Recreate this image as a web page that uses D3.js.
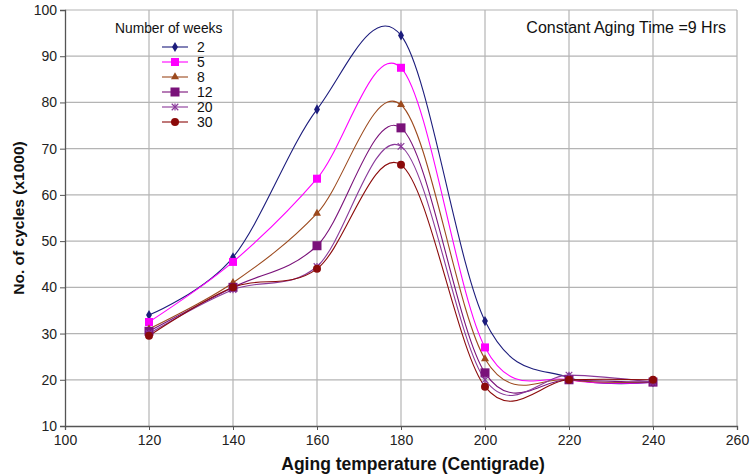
<!DOCTYPE html>
<html>
<head>
<style>
body{
    margin:0;
    background:#fff;
}
text{
    font-family: "Liberation Sans", Arial, sans-serif;
}
</style>
</head>
<body>
<svg id="chart"></svg>
<script src="https://cdn.jsdelivr.net/npm/d3@7"></script>
<script>
// aging temperatures
var temps = [120, 140, 160, 180, 200, 220, 240];
// cycles (x1000) per number of weeks
var weeks2  = [34, 46.5, 78.5, 94.5, 32.7, 20.5, 19.5];
var weeks5  = [32.5, 45.5, 63.5, 87.5, 27, 20, 19.5];
var weeks8  = [31, 41, 56, 79.5, 24.5, 20, 19.5];
var weeks12 = [30.5, 40, 49, 74.5, 21.5, 20, 19.5];
var weeks20 = [30, 39.5, 44.5, 70.5, 20, 21, 19.5];
var weeks30 = [29.5, 40, 44, 66.5, 18.5, 20, 20];
var seriesNames = ['2', '5', '8', '12', '20', '30'];
var xTicks = [100, 120, 140, 160, 180, 200, 220, 240, 260];
var yTicks = [10, 20, 30, 40, 50, 60, 70, 80, 90, 100];

var series = [
    {name: '2', values: weeks2, color: '#1c1c7c', marker: 'diamond'},
    {name: '5', values: weeks5, color: '#ff00ff', marker: 'square'},
    {name: '8', values: weeks8, color: '#9c4a1e', marker: 'triangle'},
    {name: '12', values: weeks12, color: '#7a127a', marker: 'bigsquare'},
    {name: '20', values: weeks20, color: '#8a3a9a', marker: 'star'},
    {name: '30', values: weeks30, color: '#8b0a0a', marker: 'circle'}
];

var width = 751, height = 475;
var margin = {top: 10, right: 14, bottom: 49, left: 65};

var x = d3.scaleLinear().domain([100, 260]).range([margin.left, width - margin.right]);
var y = d3.scaleLinear().domain([10, 100]).range([height - margin.bottom, margin.top]);

var svg = d3.select('#chart').attr('width', width).attr('height', height);

// grid
svg.append('g').selectAll('line').data(yTicks.slice(1))
    .enter().append('line')
    .attr('x1', x(100)).attr('x2', x(260))
    .attr('y1', function (d) { return y(d); })
    .attr('y2', function (d) { return y(d); })
    .attr('stroke', '#b4b4b4').attr('stroke-width', 1.2);
svg.append('g').selectAll('line').data(xTicks.slice(1))
    .enter().append('line')
    .attr('y1', y(10)).attr('y2', y(100))
    .attr('x1', function (d) { return x(d); })
    .attr('x2', function (d) { return x(d); })
    .attr('stroke', '#b4b4b4').attr('stroke-width', 1.2);

// axes
var xAxis = svg.append('g')
    .attr('transform', 'translate(0,' + y(10) + ')')
    .call(d3.axisBottom(x).tickValues(xTicks).tickSize(4).tickPadding(5));
var yAxis = svg.append('g')
    .attr('transform', 'translate(' + x(100) + ',0)')
    .call(d3.axisLeft(y).tickValues(yTicks).tickSize(5).tickPadding(3));
[xAxis, yAxis].forEach(function (a) {
    a.select('.domain').attr('stroke', '#555').attr('stroke-width', 1.3);
    a.selectAll('.tick line').attr('stroke', '#555');
    a.selectAll('.tick text').attr('fill', '#222').style('font-size', '14px')
        .style('font-family', '"Liberation Sans", Arial, sans-serif');
});

// axis titles
svg.append('text')
    .attr('x', (x(100) + x(260)) / 2 + 12).attr('y', 470)
    .attr('text-anchor', 'middle')
    .style('font-size', '17.5px').style('font-weight', 'bold').attr('fill', '#111')
    .text('Aging temperature (Centigrade)');
svg.append('text')
    .attr('transform', 'translate(24,' + (y(55)) + ') rotate(-90)')
    .attr('text-anchor', 'middle')
    .style('font-size', '15.5px').style('font-weight', 'bold').attr('fill', '#111')
    .text('No. of cycles (x1000)');

svg.append('text')
    .attr('x', 726).attr('y', 33)
    .attr('text-anchor', 'end')
    .style('font-size', '16px').attr('fill', '#111')
    .text('Constant Aging Time =9 Hrs');

function drawMarker(g, type, color) {
    if (type === 'diamond') {
        g.append('path').attr('d', d3.symbol().type(d3.symbolDiamond).size(30)())
            .attr('fill', color);
    } else if (type === 'square') {
        g.append('rect').attr('x', -4).attr('y', -4).attr('width', 8).attr('height', 8)
            .attr('fill', color);
    } else if (type === 'bigsquare') {
        g.append('rect').attr('x', -4.5).attr('y', -4.5).attr('width', 9).attr('height', 9)
            .attr('fill', color);
    } else if (type === 'triangle') {
        g.append('path').attr('d', d3.symbol().type(d3.symbolTriangle).size(28)())
            .attr('fill', color);
    } else if (type === 'star') {
        g.append('path').attr('d', d3.symbol().type(d3.symbolTimes).size(30)())
            .attr('stroke', color).attr('stroke-width', 1.2).attr('fill', 'none');
        g.append('line').attr('x1', 0).attr('x2', 0).attr('y1', -3.5).attr('y2', 3.5)
            .attr('stroke', color).attr('stroke-width', 1.2);
    } else {
        g.append('circle').attr('r', 4).attr('fill', color);
    }
}

var line = d3.line()
    .x(function (d, i) { return x(temps[i]); })
    .y(function (d) { return y(d); })
    .curve(d3.curveCardinal.tension(0));

series.forEach(function (s) {
    svg.append('path')
        .datum(s.values)
        .attr('d', line)
        .attr('fill', 'none')
        .attr('stroke', s.color)
        .attr('stroke-width', 1.1);
});
series.forEach(function (s) {
    s.values.forEach(function (v, i) {
        var g = svg.append('g').attr('transform', 'translate(' + x(temps[i]) + ',' + y(v) + ')');
        drawMarker(g, s.marker, s.color);
    });
});

// legend
var legend = svg.append('g');
legend.append('text')
    .attr('x', 115).attr('y', 33)
    .style('font-size', '13.8px').attr('fill', '#111')
    .text('Number of weeks');
series.forEach(function (s, i) {
    var ly = 47 + i * 15;
    legend.append('line')
        .attr('x1', 162).attr('x2', 188).attr('y1', ly).attr('y2', ly)
        .attr('stroke', s.color).attr('stroke-width', 1.1);
    var g = legend.append('g').attr('transform', 'translate(175,' + ly + ')');
    drawMarker(g, s.marker, s.color);
    legend.append('text')
        .attr('x', 197).attr('y', ly + 5)
        .style('font-size', '14px').attr('fill', '#111')
        .text(seriesNames[i]);
});
</script>
</body>
</html>
